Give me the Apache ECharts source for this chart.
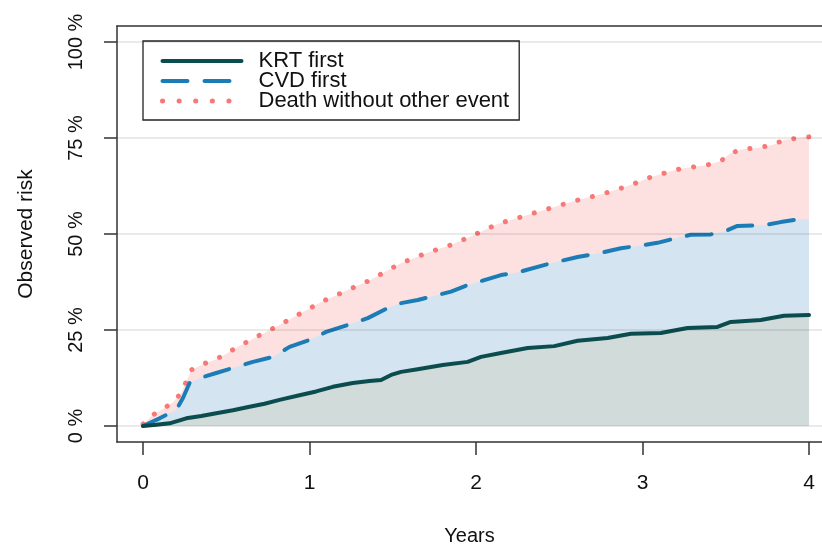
<!DOCTYPE html>
<html>
<head>
<meta charset="utf-8">
<script src="https://cdn.jsdelivr.net/npm/echarts@6/dist/echarts.min.js"></script>
<style>
html,body{margin:0;padding:0;background:#fff;}
#chart{width:822px;height:546px;}
</style>
</head>
<body>
<div id="chart"></div>
<script>
// ---- data ----
var xTicks = [0, 1, 2, 3, 4];
var yTicks = [0, 25, 50, 75, 100];

var krtTime = [0, 0.08, 0.16, 0.26, 0.35, 0.44, 0.54, 0.64, 0.73, 0.82, 0.94, 1.04, 1.14, 1.26, 1.36, 1.43, 1.49, 1.55, 1.65, 1.8, 1.95, 2.03, 2.15, 2.31, 2.47, 2.61, 2.79, 2.93, 3.11, 3.27, 3.45, 3.53, 3.71, 3.85, 4.0];
var krtRisk = [0, 0.3, 0.7, 2.0, 2.6, 3.3, 4.1, 5.0, 5.8, 6.8, 8.0, 9.0, 10.2, 11.2, 11.7, 12.0, 13.3, 14.1, 14.8, 15.9, 16.7, 18.0, 19.0, 20.3, 20.8, 22.2, 22.9, 24.0, 24.2, 25.5, 25.8, 27.1, 27.6, 28.7, 28.9];

var cvdTime = [0, 0.1, 0.2, 0.24, 0.28, 0.34, 0.44, 0.54, 0.66, 0.78, 0.88, 1.0, 1.1, 1.23, 1.35, 1.47, 1.55, 1.65, 1.85, 1.95, 2.05, 2.15, 2.25, 2.45, 2.61, 2.75, 2.87, 2.99, 3.09, 3.21, 3.29, 3.41, 3.51, 3.57, 3.73, 3.83, 3.95, 4.0];
var cvdRisk = [0, 2.0, 4.2, 7.3, 11.2, 12.5, 13.8, 15.1, 16.7, 18.0, 20.6, 22.4, 24.5, 26.3, 28.1, 30.7, 32.0, 32.8, 35.0, 36.7, 38.0, 39.3, 40.0, 42.4, 44.0, 45.1, 46.3, 47.0, 47.7, 49.0, 49.8, 49.9, 51.0, 52.1, 52.3, 53.1, 53.9, 53.8];

var deathTime = [0, 0.06, 0.12, 0.18, 0.23, 0.26, 0.29, 0.36, 0.43, 0.5, 0.56, 0.69, 0.82, 0.95, 1.08, 1.22, 1.36, 1.49, 1.55, 1.7, 1.86, 2.0, 2.13, 2.29, 2.45, 2.6, 2.76, 2.92, 3.06, 3.22, 3.39, 3.47, 3.53, 3.6, 3.69, 3.78, 3.85, 3.94, 4.0];
var deathRisk = [0.5, 2.9, 4.4, 6.2, 8.6, 11.6, 14.6, 16.1, 17.2, 18.8, 20.4, 23.4, 26.3, 29.4, 32.5, 35.2, 37.9, 41.0, 42.4, 45.0, 47.3, 50.0, 52.6, 54.7, 56.8, 58.7, 60.4, 62.6, 65.0, 66.9, 68.0, 69.0, 71.0, 72.1, 72.4, 73.2, 74.5, 75.0, 75.3];

var seriesNames = ['KRT first', 'CVD first', 'Death without other event'];

function pairs(t, v) { return t.map(function (x, i) { return [x, v[i]]; }); }

var FONT = 'Liberation Sans, Arial, Helvetica, sans-serif';
var COL_KRT = '#0b4d4f', COL_CVD = '#1c7db6', COL_DEATH = '#f87878';
var chart = echarts.init(document.getElementById('chart'), null, {renderer: 'canvas'});

function areaSeries(name, t, v, color) {
  return {
    name: name, type: 'line', data: pairs(t, v), symbol: 'none', silent: true, z: 1,
    lineStyle: {width: 0, opacity: 0},
    areaStyle: {color: color, opacity: 1}
  };
}

var krtLine = {color: COL_KRT, width: 4, type: 'solid', cap: 'round', join: 'round'};
var cvdLine = {color: COL_CVD, width: 4, type: [25, 17], cap: 'round', join: 'round'};
var deathLine = {color: COL_DEATH, width: 5, type: [0.1, 15], cap: 'round', join: 'round'};

var frame = {show: true, onZero: false, lineStyle: {color: '#333', width: 1.5}};

var option = {
  backgroundColor: '#ffffff',
  animation: false,
  grid: {left: 117, top: 26, right: 0, bottom: 104, show: false, containLabel: false, outerBoundsMode: 'none'},
  legend: {
    data: [
      {name: seriesNames[0], lineStyle: {color: COL_KRT, width: 4, type: 'solid', cap: 'round'}},
      {name: seriesNames[1], lineStyle: {color: COL_CVD, width: 4, type: [25, 17], cap: 'round'}},
      {name: seriesNames[2], lineStyle: {color: COL_DEATH, width: 5, type: [0.1, 16.5], cap: 'round'}}
    ],
    orient: 'vertical',
    left: 143, top: 41,
    padding: [9, 10, 8, 17],
    itemWidth: 79, itemHeight: 20, itemGap: -2,
    itemStyle: {opacity: 0},
    borderColor: '#222', borderWidth: 1.3,
    backgroundColor: '#ffffff',
    textStyle: {fontFamily: FONT, fontSize: 22, color: '#111', padding: [0, 0, 0, 12]}
  },
  xAxis: [{
    type: 'value', min: -0.156, max: 4.078,
    name: 'Years', nameLocation: 'middle', nameGap: 84,
    nameTextStyle: {fontFamily: FONT, fontSize: 20, color: '#111'},
    axisLine: frame,
    axisTick: {show: true, customValues: xTicks, length: 13, lineStyle: {color: '#333', width: 1.5}},
    axisLabel: {customValues: xTicks, margin: 31, fontFamily: FONT, fontSize: 21, color: '#111'},
    splitLine: {show: false}
  }, {
    type: 'value', position: 'top', min: -0.156, max: 4.078,
    axisLine: frame, axisTick: {show: false}, axisLabel: {show: false}, splitLine: {show: false}
  }],
  yAxis: {
    type: 'value', min: -4.1667, max: 104.1667,
    name: 'Observed risk', nameLocation: 'middle', nameGap: 80,
    nameTextStyle: {fontFamily: FONT, fontSize: 21, color: '#111'},
    axisLine: frame,
    axisTick: {show: true, customValues: yTicks, length: 13, lineStyle: {color: '#333', width: 1.5}},
    axisLabel: {customValues: yTicks, rotate: 90, margin: 31, formatter: '{value} %', fontFamily: FONT, fontSize: 20, color: '#111'},
    splitLine: {show: false}
  },
  series: [
    areaSeries('deathArea', deathTime, deathRisk, '#fde1e1'),
    areaSeries('cvdArea', cvdTime, cvdRisk, '#d4e4f1'),
    areaSeries('krtArea', krtTime, krtRisk, '#d1dbda'),
    {
      name: 'grid', type: 'line', data: [[0, 0]], symbol: 'none', silent: true, z: 2,
      lineStyle: {width: 0, opacity: 0},
      markLine: {
        silent: true, symbol: 'none', label: {show: false},
        lineStyle: {color: 'rgba(0,0,0,0.11)', type: 'solid', width: 1.5},
        data: yTicks.map(function (v) { return {yAxis: v}; })
      }
    },
    {
      name: seriesNames[2], type: 'line', data: pairs(deathTime, deathRisk), symbol: 'none', z: 3,
      itemStyle: {color: COL_DEATH}, lineStyle: deathLine
    },
    {
      name: seriesNames[1], type: 'line', data: pairs(cvdTime, cvdRisk), symbol: 'none', z: 3,
      itemStyle: {color: COL_CVD}, lineStyle: cvdLine
    },
    {
      name: seriesNames[0], type: 'line', data: pairs(krtTime, krtRisk), symbol: 'none', z: 3,
      itemStyle: {color: COL_KRT}, lineStyle: krtLine
    }
  ]
};
chart.setOption(option);
</script>
</body>
</html>
